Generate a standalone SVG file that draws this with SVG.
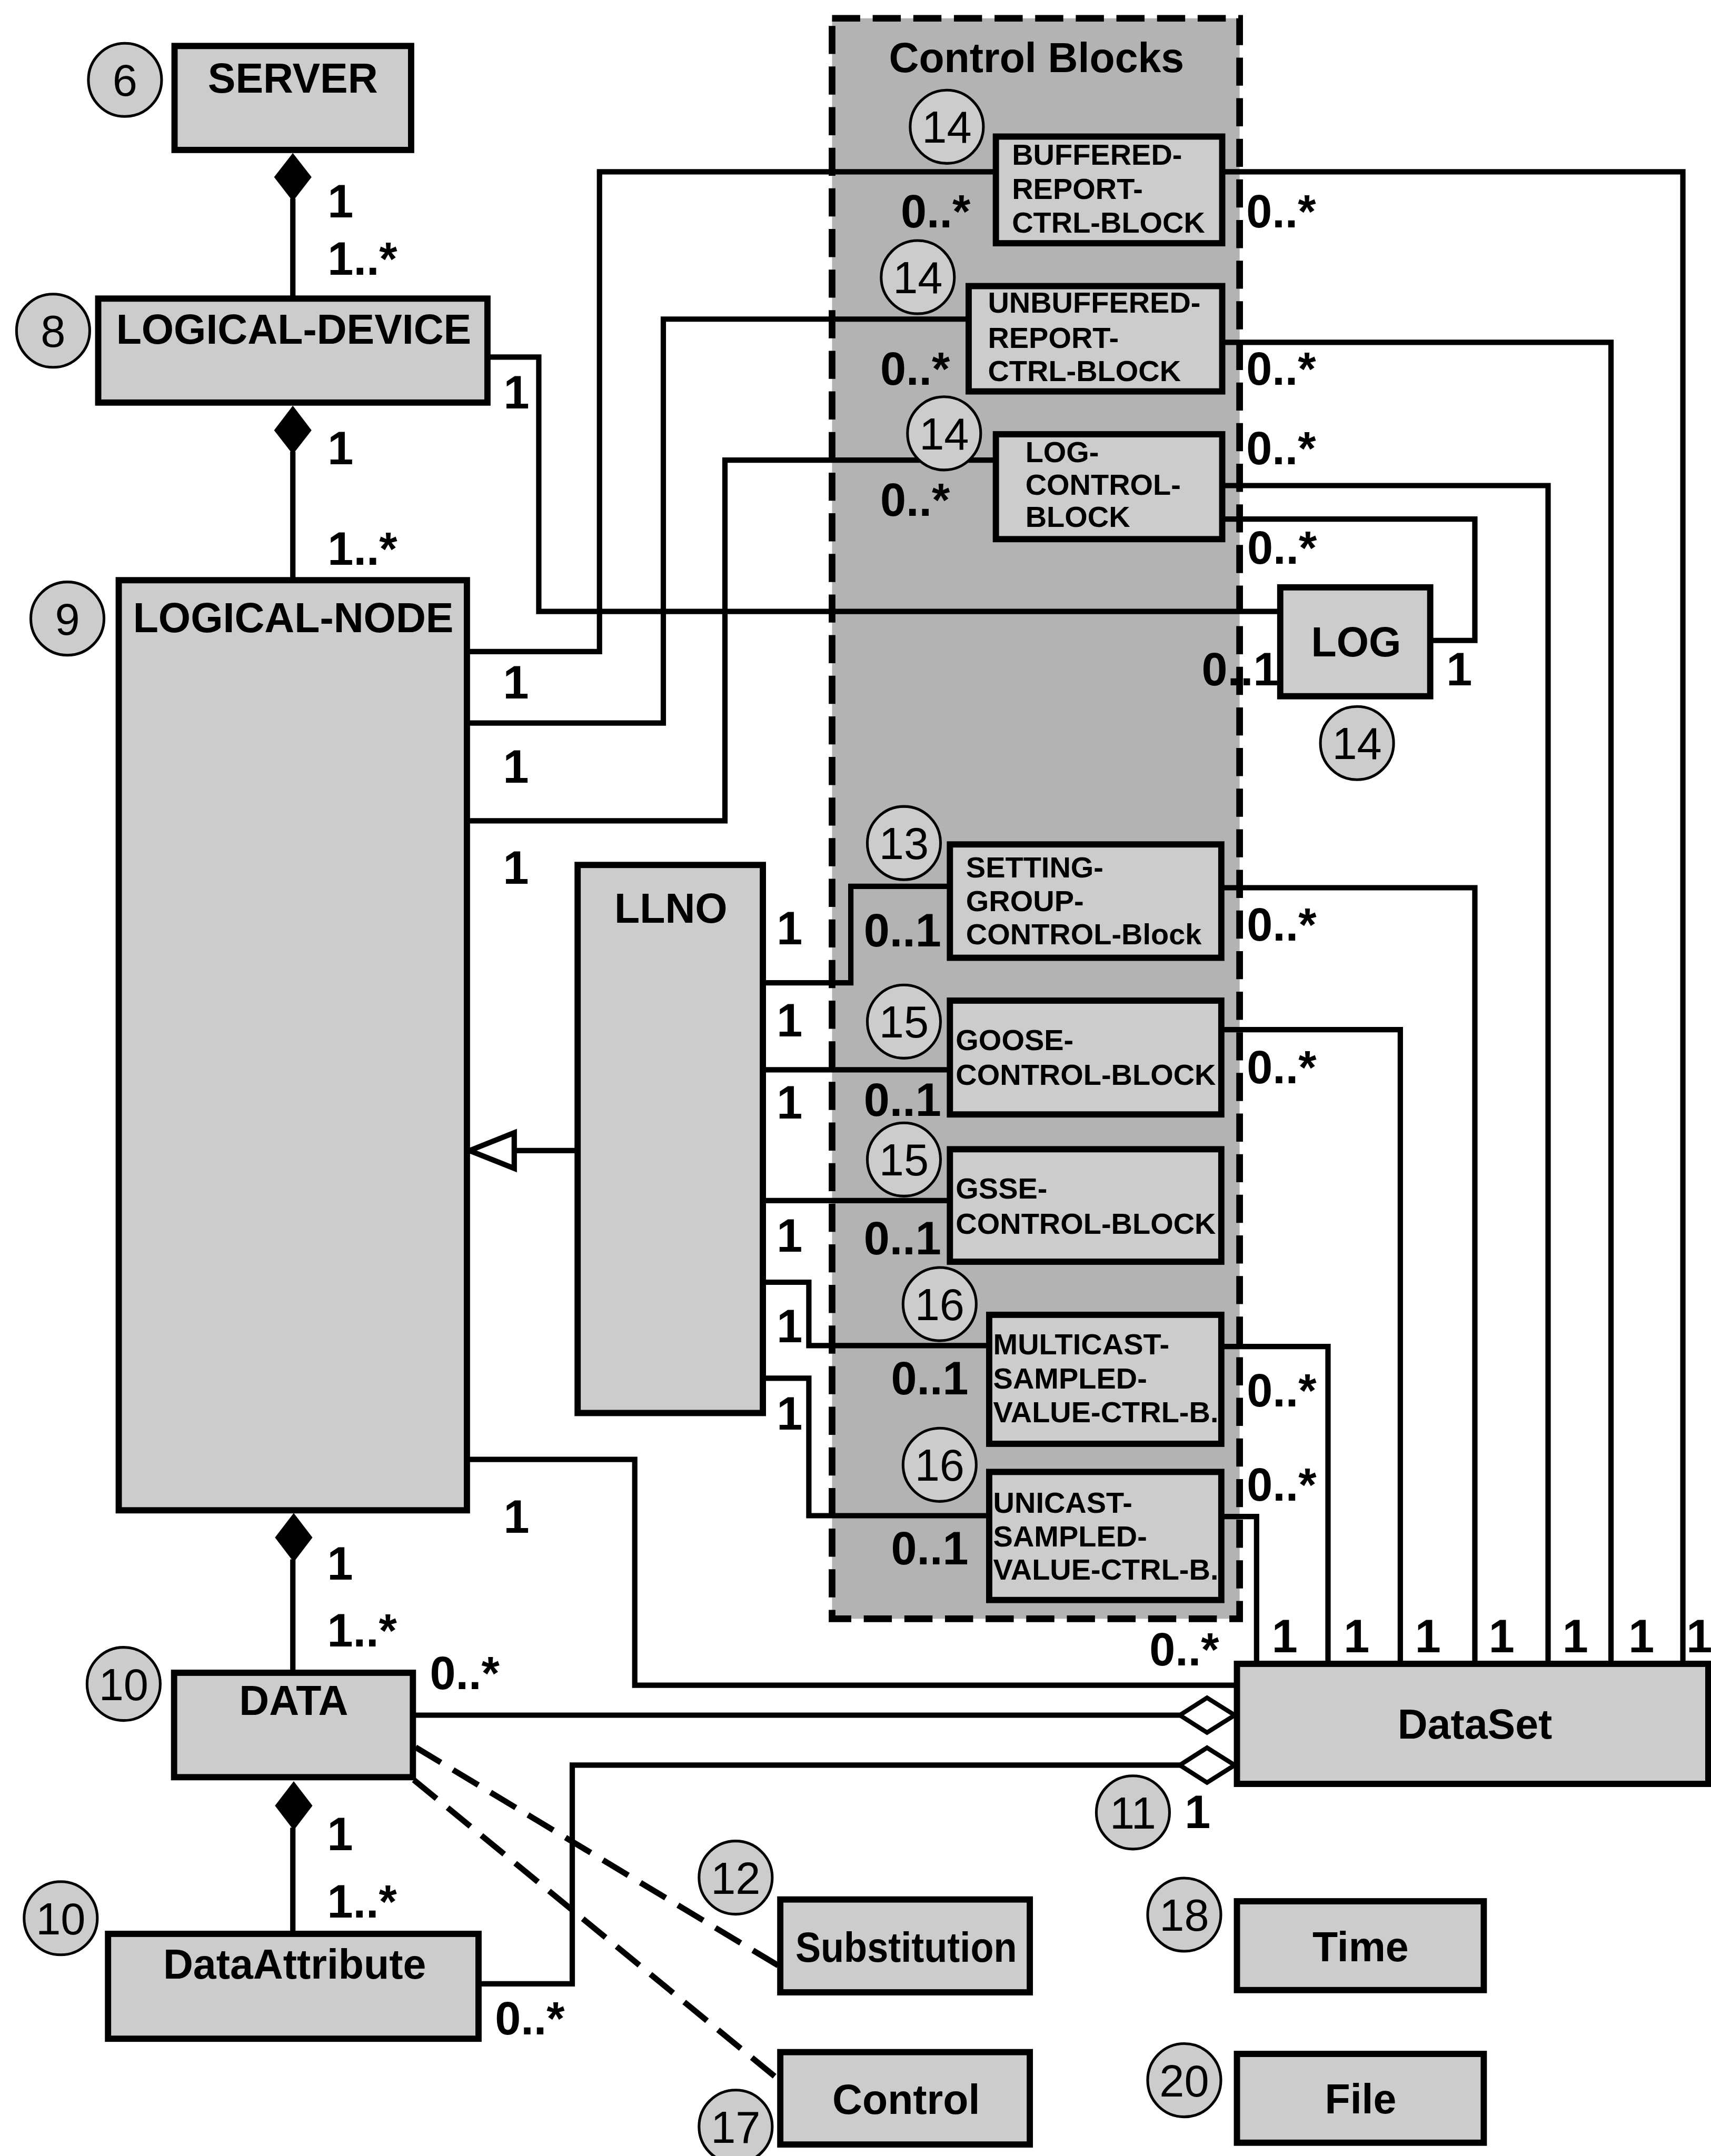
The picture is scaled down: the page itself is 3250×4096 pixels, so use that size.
<svg xmlns="http://www.w3.org/2000/svg" width="3250" height="4096" viewBox="0 0 3250 4096">
<style>
.box{fill:#cccccc;stroke:#000;stroke-width:14}
.cn{fill:none;stroke:#000;stroke-width:12;stroke-linejoin:miter;stroke-linecap:square}
.dash{fill:none;stroke:#000;stroke-width:13;stroke-dasharray:66 32}
.nc{fill:#cccccc;stroke:#000;stroke-width:6}
.nt{font-family:"Liberation Sans",Arial,sans-serif;font-size:100px;text-anchor:middle;fill:#000}
.cls{font-family:"Liberation Sans",Arial,sans-serif;font-weight:bold;font-size:93px;text-anchor:middle;fill:#000}
.cb{font-family:"Liberation Sans",Arial,sans-serif;font-weight:bold;font-size:66px;fill:#000}
.m{font-family:"Liberation Sans",Arial,sans-serif;font-weight:bold;font-size:104px;fill:#000}
</style>
<rect width="3250" height="4096" fill="#fff"/>
<g transform="scale(0.8479)">
<g id="control-blocks-region">
<rect x="1864" y="41" width="913" height="3586" fill="#b3b3b3"/>
</g>
<g id="connectors">
<line class="cn" x1="656" y1="451" x2="656" y2="669"/>
<polygon points="656,343 698,397 656,451 614,397" fill="#000"/>
<line class="cn" x1="656" y1="1018" x2="656" y2="1300"/>
<polygon points="656,909 698,964 656,1018 614,964" fill="#000"/>
<line class="cn" x1="656" y1="3500" x2="656" y2="3748"/>
<polygon points="658,3390 700,3445 658,3500 616,3445" fill="#000"/>
<line class="cn" x1="656" y1="4101" x2="656" y2="4333"/>
<polygon points="658,3991 700,4046 658,4101 616,4046" fill="#000"/>
<path class="cn" d="M1092 800 H1207 V1370 H2868"/>
<path class="cn" d="M1046 1460 H1343 V385 H2231"/>
<path class="cn" d="M1046 1620 H1486 V715 H2170"/>
<path class="cn" d="M1046 1839 H1624 V1031 H2231"/>
<path class="cn" d="M2738 385 H3770 V3728"/>
<path class="cn" d="M2738 767 H3609 V3728"/>
<path class="cn" d="M2738 1088 H3468 V3728"/>
<path class="cn" d="M2738 1163 H3304 V1435 H3204"/>
<path class="cn" d="M2736 1989 H3304 V3728"/>
<path class="cn" d="M2736 2307 H3137 V3728"/>
<path class="cn" d="M2736 3017 H2975 V3728"/>
<path class="cn" d="M2736 3398 H2815 V3728"/>
<path class="cn" d="M1709 2202 H1906 V1986 H2128"/>
<path class="cn" d="M1709 2397 H2128"/>
<path class="cn" d="M1709 2690 H2128"/>
<path class="cn" d="M1709 2873 H1812 V3015 H2216"/>
<path class="cn" d="M1709 3088 H1812 V3396 H2216"/>
<line class="cn" x1="1152" y1="2578" x2="1294" y2="2578"/>
<polygon points="1052,2578 1152,2538 1152,2618" fill="#fff" stroke="#000" stroke-width="12"/>
<path class="cn" d="M1046 3270 H1422 V3776 H2771"/>
<path class="cn" d="M925 3843 H2643"/>
<polygon points="2643,3843 2704,3804 2766,3843 2704,3882" fill="#fff" stroke="#000" stroke-width="10"/>
<path class="cn" d="M1072 4445 H1282 V3955 H2643"/>
<polygon points="2643,3955 2704,3916 2766,3955 2704,3994" fill="#fff" stroke="#000" stroke-width="10"/>
<line class="dash" x1="931" y1="3915" x2="1745" y2="4405"/>
<line class="dash" x1="927" y1="3988" x2="1745" y2="4660"/>
</g>
<g id="control-blocks-border">
<rect x="1864" y="41" width="913" height="3586" fill="none" stroke="#000" stroke-width="15" stroke-dasharray="63 28"/>
<text class="cls" x="2322" y="162">Control Blocks</text>
</g>
<g id="server"><rect class="box" x="391" y="103" width="530" height="233"/><text class="cls" x="656" y="207">SERVER</text><circle class="nc" cx="280" cy="179" r="82"/><text class="nt" x="280" y="215">6</text></g>
<g id="logical-device"><rect class="box" x="220" y="669" width="872" height="233"/><text class="cls" x="658" y="770">LOGICAL-DEVICE</text><circle class="nc" cx="119" cy="741" r="82"/><text class="nt" x="119" y="777">8</text></g>
<g id="logical-node"><rect class="box" x="266" y="1300" width="780" height="2084"/><text class="cls" x="657" y="1416">LOGICAL-NODE</text><circle class="nc" cx="151" cy="1386" r="82"/><text class="nt" x="151" y="1422">9</text></g>
<g id="llno"><rect class="box" x="1294" y="1938" width="415" height="1228"/><text class="cls" x="1503" y="2067">LLNO</text></g>
<g id="brcb"><rect class="box" x="2231" y="306" width="507" height="239"/><text class="cb" x="2267" y="369">BUFFERED-</text><text class="cb" x="2267" y="446">REPORT-</text><text class="cb" x="2267" y="521">CTRL-BLOCK</text><circle class="nc" cx="2121" cy="284" r="82"/><text class="nt" x="2121" y="320">14</text></g>
<g id="ubrcb"><rect class="box" x="2170" y="641" width="568" height="236"/><text class="cb" x="2213" y="700">UNBUFFERED-</text><text class="cb" x="2213" y="779">REPORT-</text><text class="cb" x="2213" y="854">CTRL-BLOCK</text><circle class="nc" cx="2056" cy="621" r="82"/><text class="nt" x="2056" y="657">14</text></g>
<g id="lcb"><rect class="box" x="2231" y="973" width="507" height="235"/><text class="cb" x="2297" y="1036">LOG-</text><text class="cb" x="2297" y="1109">CONTROL-</text><text class="cb" x="2297" y="1181">BLOCK</text><circle class="nc" cx="2115" cy="971" r="82"/><text class="nt" x="2115" y="1007">14</text></g>
<g id="log"><rect class="box" x="2868" y="1316" width="336" height="244"/><text class="cls" x="3038" y="1471">LOG</text><circle class="nc" cx="3040" cy="1665" r="82"/><text class="nt" x="3040" y="1701">14</text></g>
<g id="sgcb"><rect class="box" x="2128" y="1892" width="608" height="254"/><text class="cb" x="2164" y="1966">SETTING-</text><text class="cb" x="2164" y="2041">GROUP-</text><text class="cb" x="2164" y="2116">CONTROL-Block</text><circle class="nc" cx="2025" cy="1889" r="82"/><text class="nt" x="2025" y="1925">13</text></g>
<g id="gcb"><rect class="box" x="2128" y="2242" width="608" height="255"/><text class="cb" x="2141" y="2353">GOOSE-</text><text class="cb" x="2141" y="2431">CONTROL-BLOCK</text><circle class="nc" cx="2025" cy="2289" r="82"/><text class="nt" x="2025" y="2325">15</text></g>
<g id="gsse"><rect class="box" x="2128" y="2575" width="608" height="252"/><text class="cb" x="2141" y="2686">GSSE-</text><text class="cb" x="2141" y="2764">CONTROL-BLOCK</text><circle class="nc" cx="2025" cy="2598" r="82"/><text class="nt" x="2025" y="2634">15</text></g>
<g id="msvcb"><rect class="box" x="2216" y="2946" width="520" height="289"/><text class="cb" x="2225" y="3034">MULTICAST-</text><text class="cb" x="2225" y="3111">SAMPLED-</text><text class="cb" x="2225" y="3187">VALUE-CTRL-B.</text><circle class="nc" cx="2105" cy="2922" r="82"/><text class="nt" x="2105" y="2958">16</text></g>
<g id="usvcb"><rect class="box" x="2216" y="3298" width="520" height="287"/><text class="cb" x="2225" y="3390">UNICAST-</text><text class="cb" x="2225" y="3465">SAMPLED-</text><text class="cb" x="2225" y="3539">VALUE-CTRL-B.</text><circle class="nc" cx="2105" cy="3282" r="82"/><text class="nt" x="2105" y="3318">16</text></g>
<g id="dataset"><rect class="box" x="2771" y="3728" width="1056" height="269"/><text class="cls" x="3304" y="3896">DataSet</text><circle class="nc" cx="2538" cy="4061" r="82"/><text class="nt" x="2538" y="4097">11</text></g>
<g id="data"><rect class="box" x="390" y="3748" width="535" height="234"/><text class="cls" x="658" y="3842">DATA</text><circle class="nc" cx="277" cy="3773" r="82"/><text class="nt" x="277" y="3809">10</text></g>
<g id="data-attribute"><rect class="box" x="242" y="4333" width="830" height="235"/><text class="cls" x="660" y="4433">DataAttribute</text><circle class="nc" cx="136" cy="4298" r="82"/><text class="nt" x="136" y="4334">10</text></g>
<g id="substitution"><rect class="box" x="1748" y="4256" width="559" height="208"/><text class="cls" x="2030" y="4395" textLength="496" lengthAdjust="spacingAndGlyphs">Substitution</text><circle class="nc" cx="1648" cy="4207" r="82"/><text class="nt" x="1648" y="4243">12</text></g>
<g id="control"><rect class="box" x="1748" y="4598" width="559" height="207"/><text class="cls" x="2030" y="4736">Control</text><circle class="nc" cx="1648" cy="4765" r="82"/><text class="nt" x="1648" y="4801">17</text></g>
<g id="time"><rect class="box" x="2771" y="4260" width="553" height="199"/><text class="cls" x="3048" y="4394">Time</text><circle class="nc" cx="2653" cy="4290" r="82"/><text class="nt" x="2653" y="4326">18</text></g>
<g id="file"><rect class="box" x="2771" y="4602" width="553" height="199"/><text class="cls" x="3048" y="4735">File</text><circle class="nc" cx="2653" cy="4661" r="82"/><text class="nt" x="2653" y="4697">20</text></g>
<g id="multiplicities">
<text class="m" x="734" y="487">1</text>
<text class="m" x="734" y="616">1..*</text>
<text class="m" x="1128" y="915">1</text>
<text class="m" x="734" y="1040">1</text>
<text class="m" x="734" y="1266">1..*</text>
<text class="m" x="1127" y="1565">1</text>
<text class="m" x="1127" y="1754">1</text>
<text class="m" x="1127" y="1980">1</text>
<text class="m" x="1740" y="2116">1</text>
<text class="m" x="1740" y="2322">1</text>
<text class="m" x="1740" y="2506">1</text>
<text class="m" x="1740" y="2804">1</text>
<text class="m" x="1740" y="3008">1</text>
<text class="m" x="1740" y="3203">1</text>
<text class="m" x="1128" y="3434">1</text>
<text class="m" x="733" y="3539">1</text>
<text class="m" x="733" y="3689">1..*</text>
<text class="m" x="963" y="3785">0..*</text>
<text class="m" x="733" y="4145">1</text>
<text class="m" x="733" y="4296">1..*</text>
<text class="m" x="1109" y="4558">0..*</text>
<text class="m" x="2018" y="510">0..*</text>
<text class="m" x="2792" y="510">0..*</text>
<text class="m" x="1972" y="862">0..*</text>
<text class="m" x="2792" y="862">0..*</text>
<text class="m" x="2792" y="1040">0..*</text>
<text class="m" x="1972" y="1156">0..*</text>
<text class="m" x="2794" y="1263">0..*</text>
<text class="m" x="2692" y="1535">0..1</text>
<text class="m" x="3240" y="1535">1</text>
<text class="m" x="1935" y="2121">0..1</text>
<text class="m" x="2793" y="2108">0..*</text>
<text class="m" x="1935" y="2500">0..1</text>
<text class="m" x="2793" y="2427">0..*</text>
<text class="m" x="1935" y="2810">0..1</text>
<text class="m" x="1996" y="3124">0..1</text>
<text class="m" x="2793" y="3151">0..*</text>
<text class="m" x="1996" y="3505">0..1</text>
<text class="m" x="2793" y="3362">0..*</text>
<text class="m" x="2575" y="3732">0..*</text>
<text class="m" x="2849" y="3702">1</text>
<text class="m" x="3010" y="3702">1</text>
<text class="m" x="3170" y="3702">1</text>
<text class="m" x="3335" y="3702">1</text>
<text class="m" x="3500" y="3702">1</text>
<text class="m" x="3648" y="3702">1</text>
<text class="m" x="3778" y="3702">1</text>
</g>
<g id="extra-multiplicity"><text class="m" x="2654" y="4096">1</text></g>
</g>
</svg>
